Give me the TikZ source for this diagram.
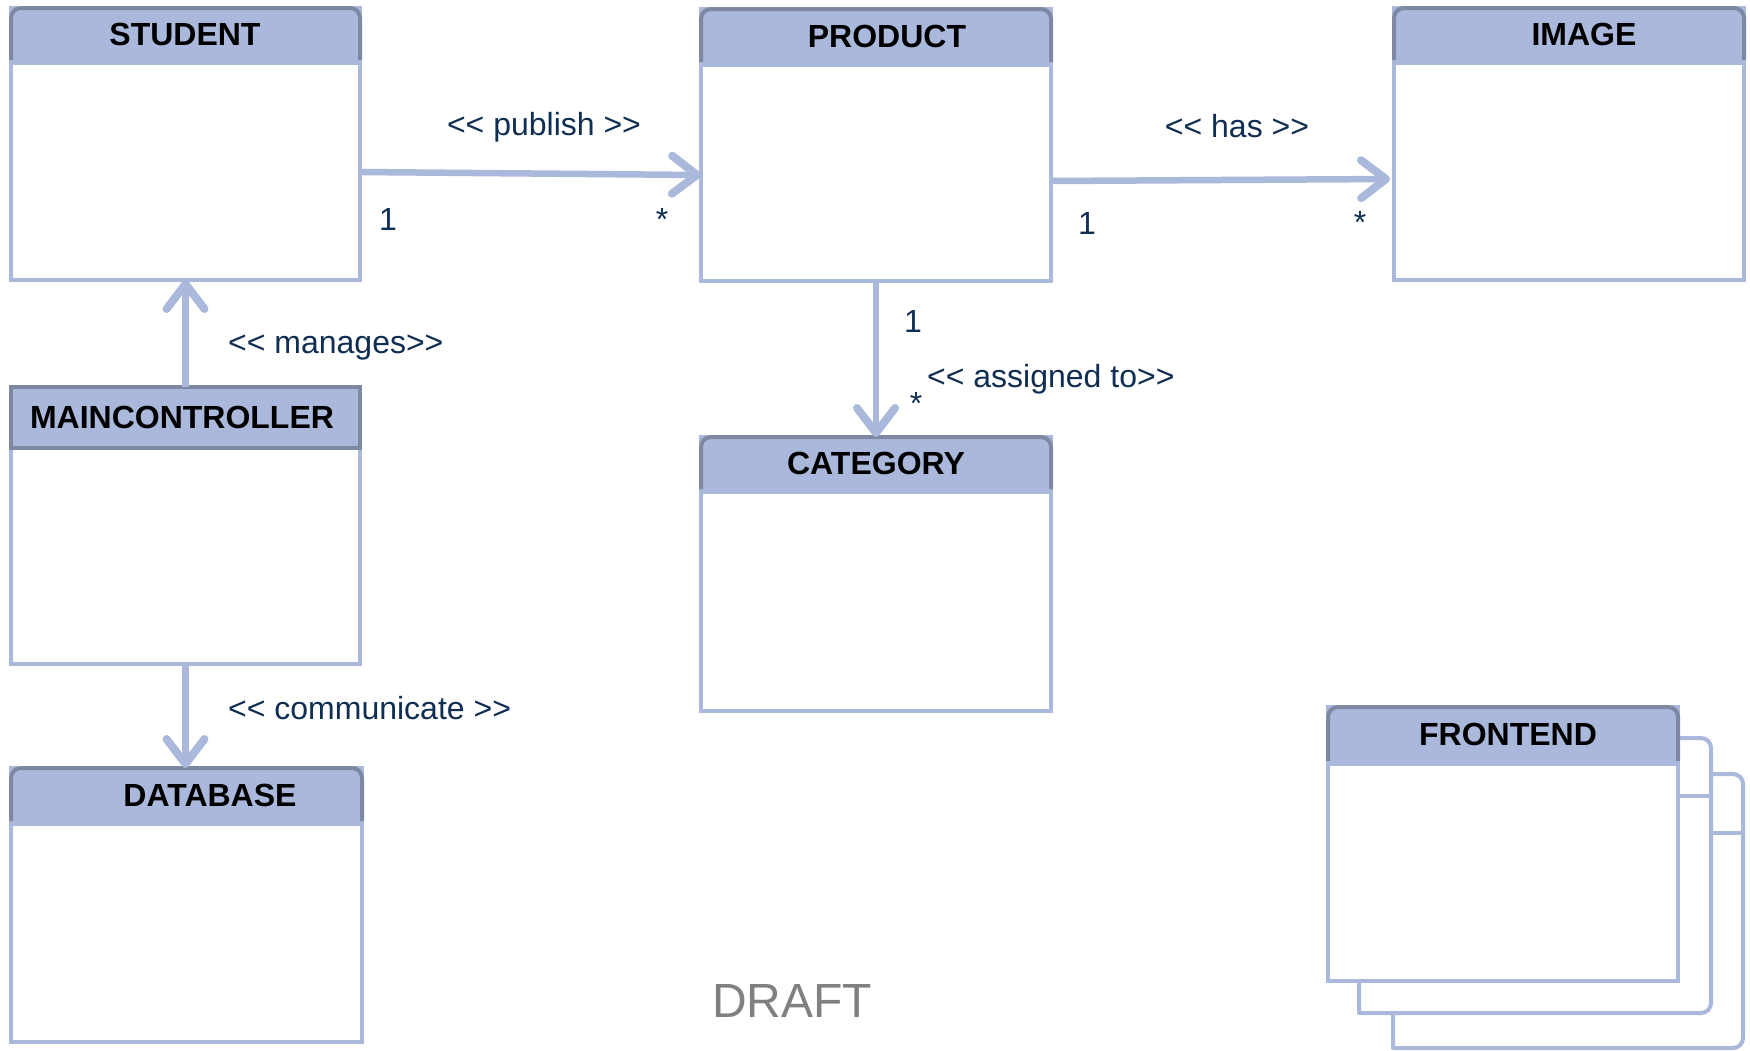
\documentclass[tikz,border=0pt]{standalone}
\usepackage{fontspec}
\setmainfont{Liberation Sans}
\usetikzlibrary{arrows.meta,calc}
\definecolor{boxline}{HTML}{A9B8DB}
\definecolor{hdrdark}{HTML}{7F88A3}
\definecolor{lbl}{HTML}{102E52}
\definecolor{draftgray}{HTML}{808080}
\newcommand\lt{<{}<}
\newcommand\gt{>{}>}
\newcommand\classbox[8]{%
  \node[bodybox, minimum width={#4-#2}, minimum height={#5-#3}] (#1) at ({(#2+#4)/2},{(#3+#5)/2}) {};
  \fill[boxline] ({#2-2},{#3+10}) rectangle ({#4+2},#6);
  \draw[hdrline] (#2,{#6-5}) -- (#2,#3) -- (#4,#3) -- (#4,{#6-5});
  \node[titletext] (#1-title) at (#7,{(#3+#6)/2-2}) {#8};
}
\begin{document}
\begin{tikzpicture}[x=1pt,y=-1pt,
  bodybox/.style={draw=boxline, line width=4pt, fill=white, rectangle, inner sep=0pt, outer sep=0pt},
  hdrline/.style={draw=hdrdark, line width=4pt, fill=boxline, rounded corners=10pt},
  backline/.style={draw=boxline, line width=4pt, rounded corners=10pt, line cap=round},
  titletext/.style={font=\fontsize{32}{36}\selectfont\bfseries, text=black, inner sep=0pt},
  lbltext/.style={font=\fontsize{32}{36}\selectfont, text=lbl, inner sep=0pt},
  assoc/.style={draw=boxline, line width=6.5pt, -{Straight Barb[length=25pt,width=38pt,line width=8pt,line cap=round,line join=round]}}
]
\useasboundingbox[fill=white] (0,0) rectangle (1750,1050);

% classes
\classbox{student}{11}{8}{360}{280}{65}{185}{STUDENT}
\classbox{product}{701}{9}{1051}{281}{67}{887}{PRODUCT}
\classbox{image}{1394}{8}{1744}{280}{65}{1584}{IMAGE}
\classbox{category}{701}{437}{1051}{711}{494}{876}{CATEGORY}
\classbox{database}{11}{768}{362}{1042}{826}{210}{DATABASE}

% main controller (square header)
\node[bodybox, minimum width=349, minimum height=277] (mc) at (185.5,525.5) {};
\draw[draw=hdrdark, line width=4pt, fill=boxline] (11,387) rectangle (360,448);
\node[titletext] (mc-title) at (182,417) {MAINCONTROLLER};

% frontend stack
\fill[white] (1393,774) rectangle (1743,1048);
\draw[backline] (1393,1048) -- (1393,774) -- (1743,774) -- (1743,1048) -- (1393,1048);
\draw[draw=boxline, line width=4pt] (1393,833) -- (1743,833);
\fill[white] (1359,738) rectangle (1711,1013);
\draw[backline] (1359,1013) -- (1359,738) -- (1711,738) -- (1711,1013) -- (1359,1013);
\draw[draw=boxline, line width=4pt] (1359,796) -- (1711,796);
\classbox{frontend}{1328}{707}{1678}{981}{766}{1508}{FRONTEND}

% connectors
\draw[assoc] ([yshift=-28pt]student.east) -- ([yshift=-30pt]product.west);
\draw[assoc] ([yshift=-36pt]product.east) -- ([xshift=-4pt,yshift=-35pt]image.west);
\draw[assoc] (mc.north) -- (student.south);
\draw[assoc] (mc.south) -- (mc.south |- database.north);
\draw[assoc] (product.south) -- (category.north);

% labels
\node[lbltext] (l-publish) at (544,127) {\lt{} publish \gt};
\node[lbltext] (m-pub1) at (388,219) {1};
\node[lbltext, anchor=base] (m-pub2) at (662,230) {*};
\node[lbltext] (l-has) at (1237,126) {\lt{} has \gt};
\node[lbltext] (m-has1) at (1087,223) {1};
\node[lbltext, anchor=base] (m-has2) at (1360,233) {*};
\node[lbltext, anchor=west] (l-manages) at (228,347) {\lt{} manages\gt};
\node[lbltext, anchor=west] (l-comm) at (228,708) {\lt{} communicate \gt};
\node[lbltext] (m-as1) at (913,321) {1};
\node[lbltext, anchor=base] (m-as2) at (916,414) {*};
\node[lbltext, anchor=west] (l-assigned) at (927,379) {\lt{} assigned to\gt};

\node[font=\fontsize{48}{52}\selectfont, text=draftgray, inner sep=0pt] (draft) at (792,1001) {DRAFT};
\end{tikzpicture}
\end{document}
